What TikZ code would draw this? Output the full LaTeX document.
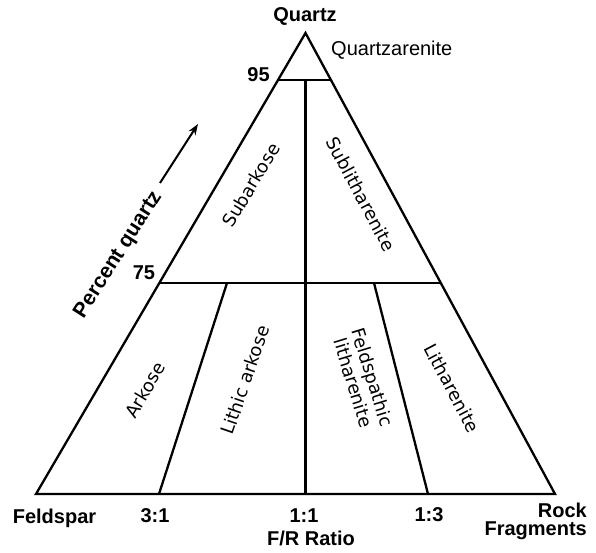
\documentclass[tikz,border=0pt]{standalone}
\usepackage{fontspec}
\setmainfont{Liberation Sans}
\newfontfamily\dvfont{DejaVu Sans}
\usetikzlibrary{arrows.meta,calc}
\tikzset{
  edge/.style={line width=2.3pt, line join=miter},
  boldlab/.style={font=\fontsize{20}{18}\selectfont\bfseries, inner sep=0pt},
  reglab/.style={font=\fontsize{20}{22}\selectfont, inner sep=0pt},
  region/.style={font=\dvfont\fontsize{18}{20}\selectfont, inner sep=0pt, align=center},
}
\begin{document}
\begin{tikzpicture}[x=1pt,y=-1pt]
\useasboundingbox (0,0) rectangle (596,553);
% corners
\coordinate (A) at (305.5,33);
\coordinate (L) at (36,494);
\coordinate (R) at (555,494);
\coordinate (q95l) at ($(A)!0.102!(L)$);
\coordinate (q95r) at ($(A)!0.102!(R)$);
\coordinate (q75l) at ($(A)!0.5423!(L)$);
\coordinate (q75r) at ($(A)!0.5423!(R)$);
\coordinate (vtop) at (305.5,80);
\coordinate (vbot) at (305.5,494);
\coordinate (d1t) at (227,283);
\coordinate (d1b) at (159,494);
\coordinate (d2t) at (374,283);
\coordinate (d2b) at (428,494);
\coordinate (arS) at (160,183);
\coordinate (arE) at (198,124);
% lines
\draw[edge] (A) -- (L) -- (R) -- cycle;
\draw[edge] (q95l) -- (q95r);
\draw[edge] (q75l) -- (q75r);
\draw[edge] (vtop) -- (vbot);
\draw[edge] (d1t) -- (d1b);
\draw[edge] (d2t) -- (d2b);
\draw[line width=2pt, -{Stealth[length=11pt,width=8pt]}] (arS) -- (arE);
% labels
\node[boldlab] (quartz) at (305,16) {Quartz};
\node[reglab, anchor=west] (qa) at (331,50) {Quartzarenite};
\node[boldlab] (n95) at (258.5,74.5) {95};
\node[boldlab] (n75) at (144,273) {75};
\node[boldlab, rotate=57.5, font=\fontsize{21}{22}\selectfont\bfseries] (pq) at (118.5,255) {Percent quartz};
\node[boldlab] (feld) at (54.5,518) {Feldspar};
\node[boldlab] (r31) at (155,516) {3:1};
\node[boldlab] (r11) at (304,516) {1:1};
\node[boldlab] (r13) at (429,515) {1:3};
\node[boldlab] (fr) at (311,538) {F/R Ratio};
\node[boldlab, align=right, anchor=east] (rock) at (587,521) {Rock\\Fragments};
\node[region, rotate=59] (subark) at (251,185) {Subarkose};
\node[region, rotate=-62] (sublith) at (361,194) {Sublitharenite};
\node[region, rotate=59] (ark) at (145,390) {Arkose};
\node[region, rotate=71] (lark) at (245,380) {Lithic arkose};
\node[region, rotate=-73] (flith) at (363,380) {Feldspathic\\litharenite};
\node[region, rotate=-62] (lith) at (452,388) {Litharenite};
\end{tikzpicture}
\end{document}
